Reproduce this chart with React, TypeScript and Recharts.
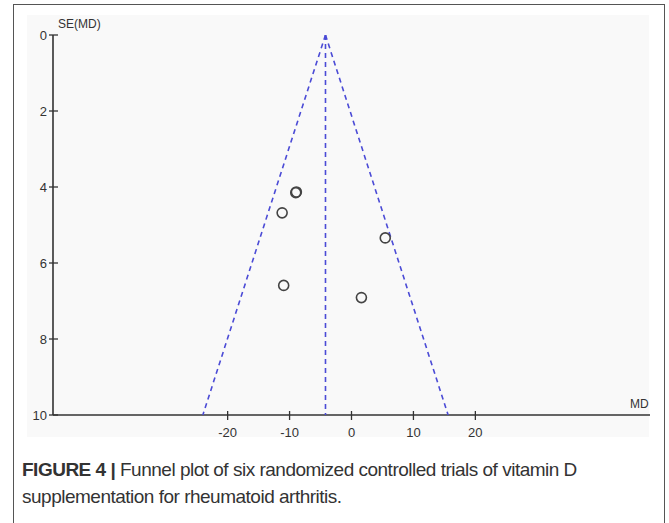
import React from 'react';
import { ScatterChart, Scatter, XAxis, YAxis } from 'recharts';

// Trial estimates (MD, SE(MD))
const trialMD = [-9.0, -8.9, -11.2, 5.45, -10.95, 1.6];
const trialSE = [4.15, 4.13, 4.68, 5.34, 6.59, 6.91];

// Funnel geometry
const pooledMD = -4.2;
const funnelLeftMD = [-4.2, -24.0];
const funnelRightMD = [-4.2, 15.6];
const funnelSE = [0, 10];

const xTicks = [-20, -10, 0, 10, 20];
const yTicks = [0, 2, 4, 6, 8, 10];

const trials = trialMD.map((md, i) => ({ md, se: trialSE[i] }));
const leftEdge = funnelLeftMD.map((md, i) => ({ md, se: funnelSE[i] }));
const rightEdge = funnelRightMD.map((md, i) => ({ md, se: funnelSE[i] }));
const centerLine = funnelSE.map((se) => ({ md: pooledMD, se }));

const AXIS = '#333';
const BLUE = '#4b4bd6';
const FONT = '"Liberation Sans", Arial, sans-serif';

const Empty = () => null;

const Circle = (props: any) => {
  const { cx, cy } = props;
  if (cx == null || cy == null) return null;
  return <circle cx={cx} cy={cy} r={5} fill="none" stroke="#444" strokeWidth={1.6} />;
};

const YTick = (props: any) => {
  const { x, y, payload } = props;
  const ax = x + 7;
  return (
    <g>
      <line x1={ax - 4} x2={ax + 5} y1={y} y2={y} stroke={AXIS} strokeWidth={1.3} />
      <text x={ax - 6} y={y + 5} textAnchor="end" fontSize={13} fill="#333" fontFamily={FONT}>
        {payload.value}
      </text>
    </g>
  );
};

const XTick = (props: any) => {
  const { x, y, payload } = props;
  const ay = y - 7;
  return (
    <g>
      <line x1={x} x2={x} y1={ay - 4} y2={ay + 5} stroke={AXIS} strokeWidth={1.3} />
      <text x={x} y={ay + 22} textAnchor="middle" fontSize={13} fill="#333" fontFamily={FONT}>
        {payload.value}
      </text>
    </g>
  );
};

const dash = { stroke: BLUE, strokeWidth: 1.6, strokeDasharray: '5 4' };

export default function App() {
  return (
    <div style={{ position: 'absolute', left: 0, top: 0, width: 669, height: 523, background: '#fff', overflow: 'hidden' }}>
      <div
        style={{
          position: 'absolute',
          left: 13,
          top: 4,
          width: 652,
          height: 540,
          border: '1.5px solid #555',
          boxSizing: 'border-box',
        }}
      />
      <div style={{ position: 'absolute', left: 27, top: 15, width: 622, height: 422, background: '#f9f9f9' }} />
      <div style={{ position: 'absolute', left: 0, top: 0 }}>
        <ScatterChart width={669} height={450} margin={{ top: 35, right: 19, bottom: 5, left: 13 }}>
          <XAxis
            type="number"
            dataKey="md"
            domain={[-48.2, 48.2]}
            ticks={xTicks}
            tick={<XTick />}
            tickLine={false}
            tickSize={4}
            tickMargin={3}
            height={30}
            axisLine={{ stroke: AXIS, strokeWidth: 1.6 }}
            allowDataOverflow
          />
          <YAxis
            type="number"
            dataKey="se"
            domain={[0, 10]}
            reversed
            ticks={yTicks}
            tick={<YTick />}
            tickLine={false}
            tickSize={4}
            tickMargin={3}
            width={40}
            axisLine={{ stroke: AXIS, strokeWidth: 1.6 }}
            allowDataOverflow
          />
          <Scatter data={leftEdge} line={dash} shape={<Empty />} isAnimationActive={false} />
          <Scatter data={rightEdge} line={dash} shape={<Empty />} isAnimationActive={false} />
          <Scatter data={centerLine} line={dash} shape={<Empty />} isAnimationActive={false} />
          <Scatter data={trials} shape={<Circle />} isAnimationActive={false} />
        </ScatterChart>
      </div>
      <div style={{ position: 'absolute', left: 58, top: 17, fontSize: 12, color: '#333', fontFamily: FONT }}>SE(MD)</div>
      <div style={{ position: 'absolute', left: 630, top: 397, fontSize: 12, color: '#333', fontFamily: FONT }}>MD</div>
      <div
        style={{
          position: 'absolute',
          left: 22,
          top: 456,
          width: 645,
          fontSize: 19,
          lineHeight: '27px',
          color: '#333',
          fontFamily: FONT,
          letterSpacing: -0.5,
          whiteSpace: 'nowrap',
        }}
      >
        <b>FIGURE 4 |</b> Funnel plot of six randomized controlled trials of vitamin D
        <br />
        supplementation for rheumatoid arthritis.
      </div>
    </div>
  );
}
